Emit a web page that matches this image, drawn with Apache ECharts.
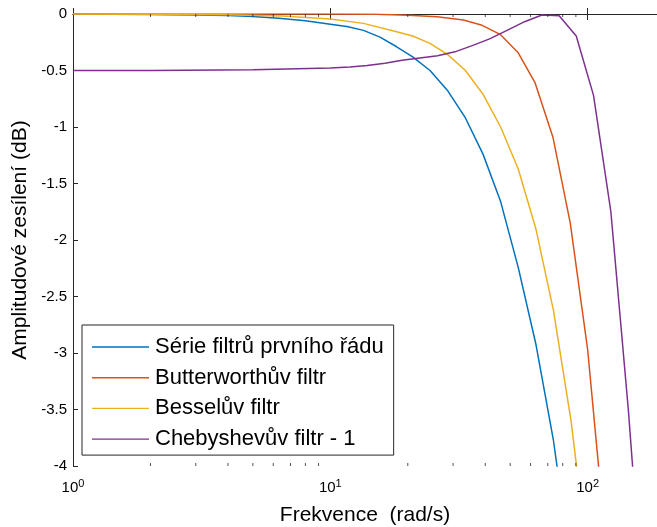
<!DOCTYPE html>
<html>
<head>
<meta charset="utf-8">
<title>Amplitudové zesílení</title>
<script src="https://cdn.jsdelivr.net/npm/echarts@6/dist/echarts.min.js"></script>
<style>
  html, body { margin: 0; padding: 0; background: #fff; }
  #chart { width: 657px; height: 527px; }
</style>
</head>
<body>
<div id="chart"></div>
<script>
// frekvence (rad/s) a zesileni (dB)
var fSerie  = [1, 2, 3, 4, 5, 6.3, 8, 10, 11.6, 13.45, 15.6, 18.1, 20.9, 24.4, 28.6, 33.5, 39.2, 45.9, 53.7, 62.9, 73.6, 86.2];
var dbSerie = [-0.001, -0.004, -0.008, -0.014, -0.023, -0.037, -0.06, -0.09, -0.11, -0.145, -0.205, -0.29, -0.38, -0.50, -0.68, -0.92, -1.24, -1.66, -2.24, -2.92, -3.77, -4.9];

var fButter  = [1, 5, 10, 15, 20.1, 26, 32.9, 38.9, 45.7, 53.6, 62.5, 73.3, 85.6, 100, 117];
var dbButter = [0, 0, 0, -0.002, -0.01, -0.025, -0.053, -0.10, -0.18, -0.34, -0.61, -1.09, -1.85, -2.97, -4.63];

var fBessel  = [1, 2, 4, 6.5, 10, 13.45, 18.1, 20.9, 24.4, 28.6, 33.5, 39.2, 45.9, 53.7, 62.9, 73.6, 86.2, 101];
var dbBessel = [0, -0.002, -0.007, -0.018, -0.044, -0.083, -0.157, -0.195, -0.26, -0.36, -0.50, -0.71, -1.00, -1.37, -1.90, -2.62, -3.6, -4.9];

var fCheby  = [1, 2, 5, 10, 11.9, 13.9, 16.3, 19, 22.3, 26.1, 30.5, 35.6, 41.6, 48.6, 56.9, 66.4, 77.5, 90.3, 105.4, 123.1, 143.9, 167.5];
var dbCheby = [-0.5, -0.499, -0.494, -0.478, -0.468, -0.455, -0.435, -0.41, -0.39, -0.37, -0.335, -0.28, -0.22, -0.145, -0.068, -0.009, -0.015, -0.195, -0.72, -1.75, -3.5, -5.5];

var names = ['Série filtrů prvního řádu', 'Butterworthův filtr', 'Besselův filtr', 'Chebyshevův filtr - 1'];
var colors = ['#0072BD', '#D95319', '#EDB120', '#7E2F8E'];

// vedlejsi znacky na log ose
var minorTicks = [2, 3, 4, 5, 6, 7, 8, 9, 20, 30, 40, 50, 60, 70, 80, 90];
var yTicks = [0, -0.5, -1, -1.5, -2, -2.5, -3, -3.5, -4];

function zip(a, b) {
  return a.map(function (v, i) { return [v, b[i]]; });
}

var font = 'Liberation Sans, Arial, Helvetica, sans-serif';
var axisColor = '#262626';

function lineSeries(i, fs, dbs) {
  return {
    name: names[i],
    type: 'line',
    data: zip(fs, dbs),
    symbol: 'none',
    clip: true,
    lineStyle: { color: colors[i], width: 1.5 },
    itemStyle: { color: colors[i] },
    z: 3
  };
}

function minorSeries(yVal, off, axisIdx) {
  return {
    type: 'scatter',
    silent: true,
    xAxisIndex: axisIdx,
    data: minorTicks.map(function (f) { return [f, yVal]; }),
    symbol: 'rect',
    symbolSize: [1, 3],
    symbolOffset: [0, off],
    itemStyle: { color: axisColor },
    clip: false,
    z: 5
  };
}

var chart = echarts.init(document.getElementById('chart'));

var option = {
  animation: false,
  backgroundColor: '#fff',
  textStyle: { fontFamily: font },
  grid: { left: 73, right: 0, top: 14, bottom: 61, containLabel: false, outerBoundsMode: 'none' },
  legend: {
    data: names,
    orient: 'vertical',
    left: 82,
    top: 325,
    padding: [11, 10, 5, 10],
    itemGap: 8.7,
    itemWidth: 57,
    itemHeight: 1.4,
    icon: 'rect',
    backgroundColor: '#fff',
    borderColor: axisColor,
    borderWidth: 1,
    borderRadius: 0,
    textStyle: { fontSize: 22, lineHeight: 22, color: '#000', fontFamily: font, padding: [0, 0, 0, 1] }
  },
  xAxis: [
    {
      type: 'log',
      logBase: 10,
      min: 1,
      max: 186,
      name: 'Frekvence  (rad/s)',
      nameLocation: 'middle',
      nameGap: 39,
      nameMoveOverlap: false,
      nameTextStyle: { fontSize: 21, color: '#000', fontFamily: font },
      axisLine: { lineStyle: { color: axisColor, width: 1 } },
      axisTick: { inside: true, length: 6, lineStyle: { color: axisColor } },
      splitLine: { show: false },
      axisLabel: {
        showMaxLabel: false,
        margin: 12,
        color: '#000',
        formatter: function (v) {
          var e = Math.round(Math.log10(v));
          if (Math.abs(Math.pow(10, e) - v) > 1e-6 * v) return '';
          return '{b|10}{s|' + e + '}';
        },
        rich: {
          b: { fontSize: 15, fontFamily: font, color: '#000', lineHeight: 18 },
          s: { fontSize: 11, fontFamily: font, color: '#000', verticalAlign: 'top', padding: [0, 0, 9, 0] }
        }
      }
    },
    {
      type: 'log',
      logBase: 10,
      min: 1,
      max: 186,
      position: 'top',
      axisLine: { onZero: false, lineStyle: { color: axisColor, width: 1 } },
      axisTick: { inside: true, length: 6, lineStyle: { color: axisColor } },
      axisLabel: { show: false },
      splitLine: { show: false }
    }
  ],
  yAxis: {
    type: 'value',
    min: yTicks[yTicks.length - 1],
    max: yTicks[0],
    interval: 0.5,
    name: 'Amplitudové zesílení (dB)',
    nameLocation: 'middle',
    nameGap: 42,
    nameMoveOverlap: false,
    nameTextStyle: { fontSize: 21, color: '#000', fontFamily: font },
    axisLine: { show: true, lineStyle: { color: axisColor, width: 1 } },
    axisTick: { show: true, inside: true, length: 5, lineStyle: { color: axisColor } },
    splitLine: { show: false },
    axisLabel: { fontSize: 15, color: '#000', margin: 6 }
  },
  series: [
    lineSeries(0, fSerie, dbSerie),
    lineSeries(1, fButter, dbButter),
    lineSeries(2, fBessel, dbBessel),
    lineSeries(3, fCheby, dbCheby),
    minorSeries(yTicks[yTicks.length - 1], -1.5, 0),
    minorSeries(yTicks[0], 1.5, 0)
  ]
};

chart.setOption(option);
</script>
</body>
</html>
